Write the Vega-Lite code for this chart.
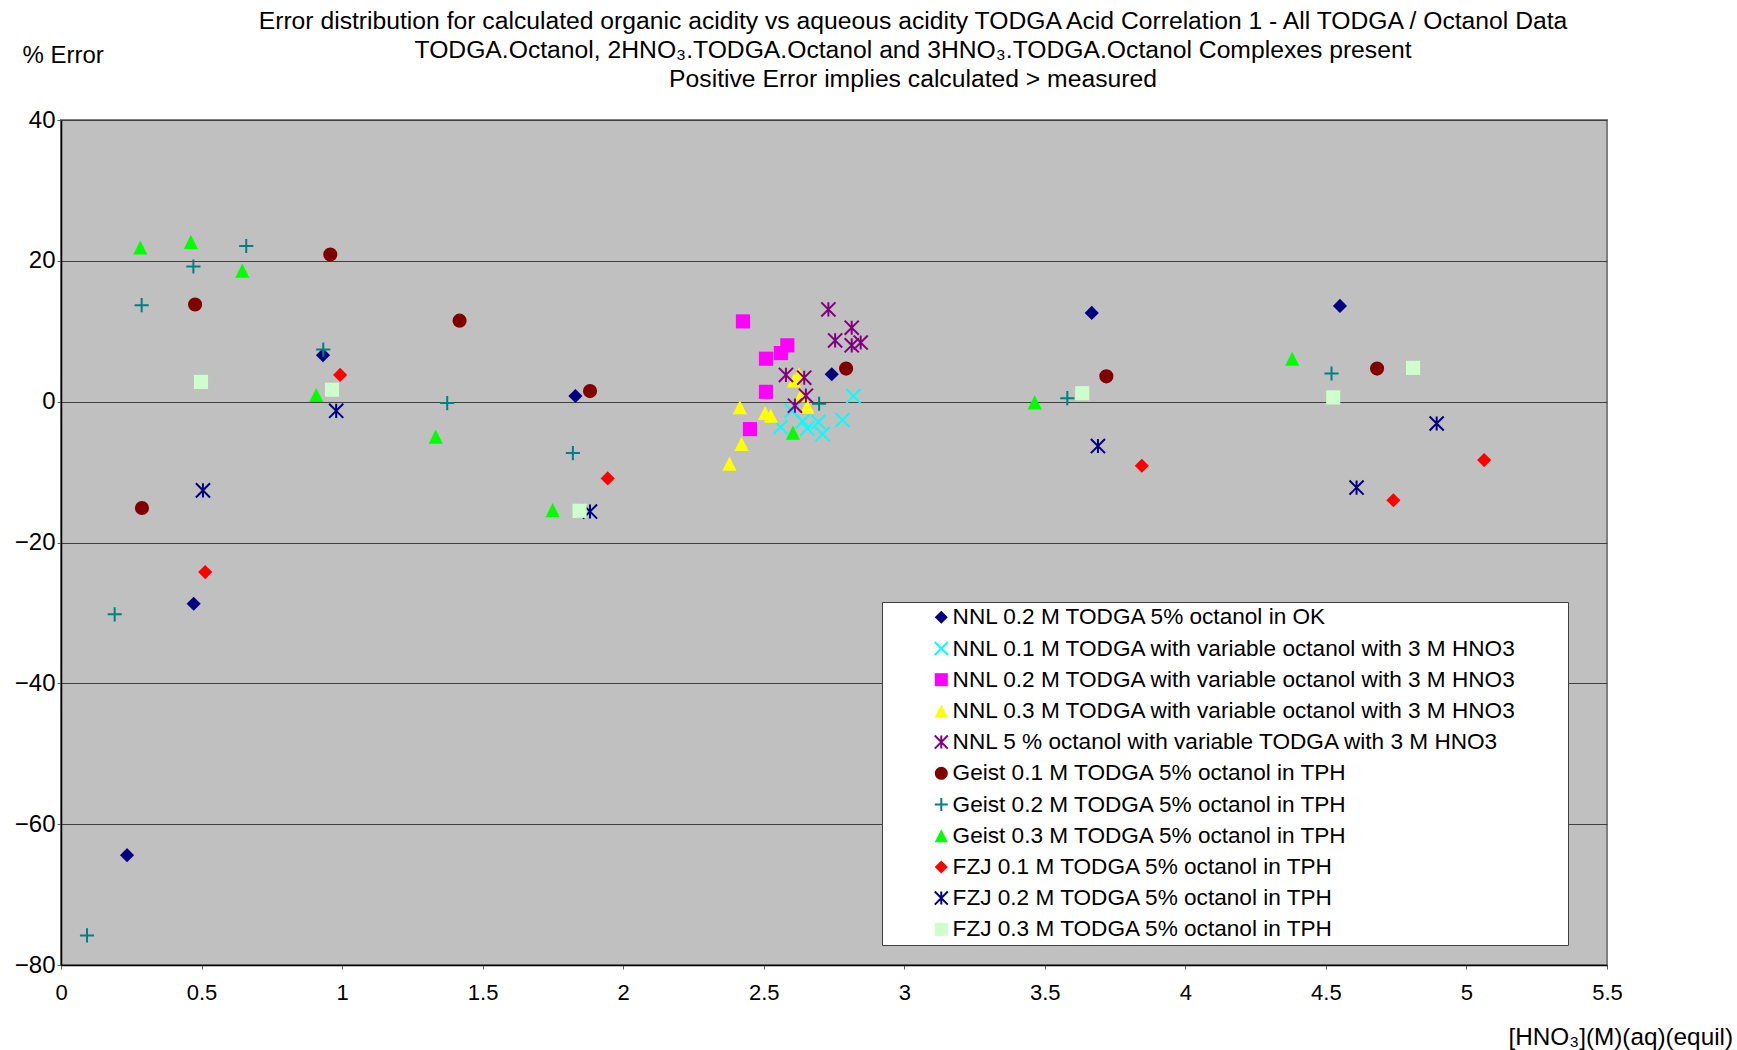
{
  "$schema": "https://vega.github.io/schema/vega-lite/v6.json",
  "autosize": "none",
  "width": 1546,
  "height": 845,
  "padding": {"left": 61, "top": 120, "right": 130, "bottom": 85},
  "background": "white",
  "title": {
    "text": ["Error distribution for calculated organic acidity vs aqueous acidity TODGA Acid Correlation 1 - All TODGA / Octanol Data", "TODGA.Octanol, 2HNO₃.TODGA.Octanol and 3HNO₃.TODGA.Octanol Complexes present", "Positive Error implies calculated > measured"],
    "fontSize": 24.7, "lineHeight": 29, "font": "Liberation Sans", "fontWeight": "normal", "color": "black",
    "anchor": "middle", "frame": "group", "dx": 79, "offset": -49
  },
  "config": {
    "font": "Liberation Sans",
    "view": {"stroke": "#808080", "strokeWidth": 2, "fill": "#C0C0C0"}
  },
  "data": {"values": [
    {"series": "NNL 0.2 M TODGA 5% octanol in OK", "x": 0.932, "y": 6.6},
    {"series": "NNL 0.2 M TODGA 5% octanol in OK", "x": 0.472, "y": -28.7},
    {"series": "NNL 0.2 M TODGA 5% octanol in OK", "x": 0.235, "y": -64.4},
    {"series": "NNL 0.2 M TODGA 5% octanol in OK", "x": 1.830, "y": 0.8},
    {"series": "NNL 0.2 M TODGA 5% octanol in OK", "x": 2.742, "y": 3.9},
    {"series": "NNL 0.2 M TODGA 5% octanol in OK", "x": 3.667, "y": 12.6},
    {"series": "NNL 0.2 M TODGA 5% octanol in OK", "x": 4.550, "y": 13.6},
    {"series": "NNL 0.1 M TODGA with variable octanol with 3 M HNO3", "x": 2.560, "y": -3.6},
    {"series": "NNL 0.1 M TODGA with variable octanol with 3 M HNO3", "x": 2.599, "y": -1.3},
    {"series": "NNL 0.1 M TODGA with variable octanol with 3 M HNO3", "x": 2.639, "y": -2.8},
    {"series": "NNL 0.1 M TODGA with variable octanol with 3 M HNO3", "x": 2.655, "y": -3.8},
    {"series": "NNL 0.1 M TODGA with variable octanol with 3 M HNO3", "x": 2.694, "y": -2.9},
    {"series": "NNL 0.1 M TODGA with variable octanol with 3 M HNO3", "x": 2.709, "y": -4.6},
    {"series": "NNL 0.1 M TODGA with variable octanol with 3 M HNO3", "x": 2.780, "y": -2.6},
    {"series": "NNL 0.1 M TODGA with variable octanol with 3 M HNO3", "x": 2.819, "y": 0.8},
    {"series": "NNL 0.2 M TODGA with variable octanol with 3 M HNO3", "x": 2.426, "y": 11.4},
    {"series": "NNL 0.2 M TODGA with variable octanol with 3 M HNO3", "x": 2.584, "y": 8.0},
    {"series": "NNL 0.2 M TODGA with variable octanol with 3 M HNO3", "x": 2.561, "y": 6.9},
    {"series": "NNL 0.2 M TODGA with variable octanol with 3 M HNO3", "x": 2.508, "y": 6.1},
    {"series": "NNL 0.2 M TODGA with variable octanol with 3 M HNO3", "x": 2.508, "y": 1.4},
    {"series": "NNL 0.2 M TODGA with variable octanol with 3 M HNO3", "x": 2.451, "y": -3.9},
    {"series": "NNL 0.3 M TODGA with variable octanol with 3 M HNO3", "x": 2.625, "y": 3.9},
    {"series": "NNL 0.3 M TODGA with variable octanol with 3 M HNO3", "x": 2.608, "y": 3.0},
    {"series": "NNL 0.3 M TODGA with variable octanol with 3 M HNO3", "x": 2.633, "y": 0.9},
    {"series": "NNL 0.3 M TODGA with variable octanol with 3 M HNO3", "x": 2.655, "y": -0.7},
    {"series": "NNL 0.3 M TODGA with variable octanol with 3 M HNO3", "x": 2.415, "y": -0.8},
    {"series": "NNL 0.3 M TODGA with variable octanol with 3 M HNO3", "x": 2.505, "y": -1.6},
    {"series": "NNL 0.3 M TODGA with variable octanol with 3 M HNO3", "x": 2.525, "y": -2.0},
    {"series": "NNL 0.3 M TODGA with variable octanol with 3 M HNO3", "x": 2.421, "y": -6.0},
    {"series": "NNL 0.3 M TODGA with variable octanol with 3 M HNO3", "x": 2.378, "y": -8.8},
    {"series": "NNL 5 % octanol with variable TODGA with 3 M HNO3", "x": 2.730, "y": 13.1},
    {"series": "NNL 5 % octanol with variable TODGA with 3 M HNO3", "x": 2.813, "y": 10.5},
    {"series": "NNL 5 % octanol with variable TODGA with 3 M HNO3", "x": 2.754, "y": 8.7},
    {"series": "NNL 5 % octanol with variable TODGA with 3 M HNO3", "x": 2.813, "y": 8.0},
    {"series": "NNL 5 % octanol with variable TODGA with 3 M HNO3", "x": 2.845, "y": 8.4},
    {"series": "NNL 5 % octanol with variable TODGA with 3 M HNO3", "x": 2.579, "y": 3.8},
    {"series": "NNL 5 % octanol with variable TODGA with 3 M HNO3", "x": 2.644, "y": 3.4},
    {"series": "NNL 5 % octanol with variable TODGA with 3 M HNO3", "x": 2.650, "y": 0.85},
    {"series": "NNL 5 % octanol with variable TODGA with 3 M HNO3", "x": 2.611, "y": -0.57},
    {"series": "Geist 0.1 M TODGA 5% octanol in TPH", "x": 0.958, "y": 20.9},
    {"series": "Geist 0.1 M TODGA 5% octanol in TPH", "x": 0.477, "y": 13.8},
    {"series": "Geist 0.1 M TODGA 5% octanol in TPH", "x": 1.418, "y": 11.5},
    {"series": "Geist 0.1 M TODGA 5% octanol in TPH", "x": 0.288, "y": -15.1},
    {"series": "Geist 0.1 M TODGA 5% octanol in TPH", "x": 1.882, "y": 1.5},
    {"series": "Geist 0.1 M TODGA 5% octanol in TPH", "x": 2.793, "y": 4.7},
    {"series": "Geist 0.1 M TODGA 5% octanol in TPH", "x": 3.719, "y": 3.6},
    {"series": "Geist 0.1 M TODGA 5% octanol in TPH", "x": 4.682, "y": 4.7},
    {"series": "Geist 0.2 M TODGA 5% octanol in TPH", "x": 0.287, "y": 13.7},
    {"series": "Geist 0.2 M TODGA 5% octanol in TPH", "x": 0.471, "y": 19.2},
    {"series": "Geist 0.2 M TODGA 5% octanol in TPH", "x": 0.659, "y": 22.1},
    {"series": "Geist 0.2 M TODGA 5% octanol in TPH", "x": 0.933, "y": 7.4},
    {"series": "Geist 0.2 M TODGA 5% octanol in TPH", "x": 1.374, "y": -0.2},
    {"series": "Geist 0.2 M TODGA 5% octanol in TPH", "x": 0.191, "y": -30.2},
    {"series": "Geist 0.2 M TODGA 5% octanol in TPH", "x": 0.0925, "y": -75.8},
    {"series": "Geist 0.2 M TODGA 5% octanol in TPH", "x": 1.821, "y": -7.3},
    {"series": "Geist 0.2 M TODGA 5% octanol in TPH", "x": 2.697, "y": -0.3},
    {"series": "Geist 0.2 M TODGA 5% octanol in TPH", "x": 3.580, "y": 0.5},
    {"series": "Geist 0.2 M TODGA 5% octanol in TPH", "x": 4.520, "y": 4.0},
    {"series": "Geist 0.3 M TODGA 5% octanol in TPH", "x": 0.282, "y": 21.9},
    {"series": "Geist 0.3 M TODGA 5% octanol in TPH", "x": 0.462, "y": 22.7},
    {"series": "Geist 0.3 M TODGA 5% octanol in TPH", "x": 0.645, "y": 18.6},
    {"series": "Geist 0.3 M TODGA 5% octanol in TPH", "x": 0.908, "y": 0.95},
    {"series": "Geist 0.3 M TODGA 5% octanol in TPH", "x": 1.333, "y": -4.96},
    {"series": "Geist 0.3 M TODGA 5% octanol in TPH", "x": 1.749, "y": -15.4},
    {"series": "Geist 0.3 M TODGA 5% octanol in TPH", "x": 2.604, "y": -4.4},
    {"series": "Geist 0.3 M TODGA 5% octanol in TPH", "x": 3.464, "y": -0.1},
    {"series": "Geist 0.3 M TODGA 5% octanol in TPH", "x": 4.380, "y": 6.1},
    {"series": "FZJ 0.1 M TODGA 5% octanol in TPH", "x": 0.993, "y": 3.8},
    {"series": "FZJ 0.1 M TODGA 5% octanol in TPH", "x": 0.513, "y": -24.2},
    {"series": "FZJ 0.1 M TODGA 5% octanol in TPH", "x": 1.945, "y": -10.9},
    {"series": "FZJ 0.1 M TODGA 5% octanol in TPH", "x": 3.845, "y": -9.1},
    {"series": "FZJ 0.1 M TODGA 5% octanol in TPH", "x": 4.740, "y": -14.0},
    {"series": "FZJ 0.1 M TODGA 5% octanol in TPH", "x": 5.063, "y": -8.3},
    {"series": "FZJ 0.2 M TODGA 5% octanol in TPH", "x": 0.505, "y": -12.6},
    {"series": "FZJ 0.2 M TODGA 5% octanol in TPH", "x": 0.979, "y": -1.3},
    {"series": "FZJ 0.2 M TODGA 5% octanol in TPH", "x": 1.882, "y": -15.6},
    {"series": "FZJ 0.2 M TODGA 5% octanol in TPH", "x": 3.689, "y": -6.3},
    {"series": "FZJ 0.2 M TODGA 5% octanol in TPH", "x": 4.609, "y": -12.2},
    {"series": "FZJ 0.2 M TODGA 5% octanol in TPH", "x": 4.894, "y": -3.1},
    {"series": "FZJ 0.3 M TODGA 5% octanol in TPH", "x": 0.498, "y": 2.8},
    {"series": "FZJ 0.3 M TODGA 5% octanol in TPH", "x": 0.964, "y": 1.7},
    {"series": "FZJ 0.3 M TODGA 5% octanol in TPH", "x": 1.845, "y": -15.5},
    {"series": "FZJ 0.3 M TODGA 5% octanol in TPH", "x": 3.633, "y": 1.2},
    {"series": "FZJ 0.3 M TODGA 5% octanol in TPH", "x": 4.526, "y": 0.6},
    {"series": "FZJ 0.3 M TODGA 5% octanol in TPH", "x": 4.810, "y": 4.8}
  ]},
  "mark": {"type": "point", "opacity": 1, "size": 200, "strokeWidth": 2},
  "encoding": {
    "x": {
      "field": "x", "type": "quantitative",
      "scale": {"domain": [0, 5.5], "nice": false, "zero": false},
      "axis": {
        "values": [0, 0.5, 1, 1.5, 2, 2.5, 3, 3.5, 4, 4.5, 5, 5.5], "format": "~g", "labelFlush": false, "labelOverlap": false,
        "grid": false, "domainColor": "black", "domainWidth": 1.5,
        "tickColor": "#606060", "tickSize": 4, "labelPadding": 13,
        "labelFontSize": 22, "labelColor": "black", "labelFont": "Liberation Sans",
        "title": "[HNO₃](M)(aq)(equil)", "titleFontSize": 24.3, "titleFontWeight": "normal", "titleColor": "black",
        "titleX": 1447, "titleY": 72, "titleAlign": "left", "titleBaseline": "middle", "titleFont": "Liberation Sans"
      }
    },
    "y": {
      "field": "y", "type": "quantitative",
      "scale": {"domain": [-80, 40], "nice": false, "zero": false},
      "axis": {
        "values": [-80, -60, -40, -20, 0, 20, 40], "format": "d", "labelFlush": false, "labelOverlap": false,
        "grid": true, "gridColor": "#404040", "gridWidth": 1, "gridOpacity": 1,
        "domainColor": "black", "domainWidth": 1.5,
        "tickColor": "#606060", "tickSize": 4, "labelPadding": 2,
        "labelFontSize": 24, "labelColor": "black", "labelFont": "Liberation Sans",
        "title": "% Error", "titleFontSize": 24, "titleFontWeight": "normal", "titleColor": "black",
        "titleAngle": 0, "titleX": -39, "titleY": -65, "titleAlign": "left", "titleBaseline": "middle", "titleFont": "Liberation Sans"
      }
    },
    "fill": {
      "field": "series", "type": "nominal",
      "scale": {
        "domain": ["NNL 0.2 M TODGA 5% octanol in OK", "NNL 0.1 M TODGA with variable octanol with 3 M HNO3", "NNL 0.2 M TODGA with variable octanol with 3 M HNO3", "NNL 0.3 M TODGA with variable octanol with 3 M HNO3", "NNL 5 % octanol with variable TODGA with 3 M HNO3", "Geist 0.1 M TODGA 5% octanol in TPH", "Geist 0.2 M TODGA 5% octanol in TPH", "Geist 0.3 M TODGA 5% octanol in TPH", "FZJ 0.1 M TODGA 5% octanol in TPH", "FZJ 0.2 M TODGA 5% octanol in TPH", "FZJ 0.3 M TODGA 5% octanol in TPH"],
        "range": ["#000080", "transparent", "#FF00FF", "#FFFF00", "transparent", "#800000", "transparent", "#00FF00", "#FF0000", "transparent", "#CCFFCC"]
      },
      "legend": {
        "orient": "none", "legendX": 821, "legendY": 482,
        "title": "\u2800\u2800\u2800", "titleOrient": "right", "titleAngle": 0, "titleFontSize": 20, "titlePadding": 2, "titleLimit": 1000,
        "fillColor": "white", "strokeColor": "#404040",
        "padding": 4, "symbolOffset": 44, "labelOffset": 0,
        "labelFontSize": 22.6, "labelFont": "Liberation Sans", "labelColor": "black", "labelLimit": 1000,
        "rowPadding": 8.2, "symbolSize": 170, "symbolStrokeWidth": 2
      }
    },
    "stroke": {
      "field": "series", "type": "nominal",
      "scale": {
        "domain": ["NNL 0.2 M TODGA 5% octanol in OK", "NNL 0.1 M TODGA with variable octanol with 3 M HNO3", "NNL 0.2 M TODGA with variable octanol with 3 M HNO3", "NNL 0.3 M TODGA with variable octanol with 3 M HNO3", "NNL 5 % octanol with variable TODGA with 3 M HNO3", "Geist 0.1 M TODGA 5% octanol in TPH", "Geist 0.2 M TODGA 5% octanol in TPH", "Geist 0.3 M TODGA 5% octanol in TPH", "FZJ 0.1 M TODGA 5% octanol in TPH", "FZJ 0.2 M TODGA 5% octanol in TPH", "FZJ 0.3 M TODGA 5% octanol in TPH"],
        "range": ["transparent", "#00FFFF", "transparent", "transparent", "#800080", "transparent", "#008080", "transparent", "transparent", "#000080", "transparent"]
      },
      "legend": {
        "orient": "none", "legendX": 821, "legendY": 482,
        "title": "\u2800\u2800\u2800", "titleOrient": "right", "titleAngle": 0, "titleFontSize": 20, "titlePadding": 2, "titleLimit": 1000,
        "fillColor": "white", "strokeColor": "#404040",
        "padding": 4, "symbolOffset": 44, "labelOffset": 0,
        "labelFontSize": 22.6, "labelFont": "Liberation Sans", "labelColor": "black", "labelLimit": 1000,
        "rowPadding": 8.2, "symbolSize": 170, "symbolStrokeWidth": 2
      }
    },
    "shape": {
      "field": "series", "type": "nominal",
      "scale": {
        "domain": ["NNL 0.2 M TODGA 5% octanol in OK", "NNL 0.1 M TODGA with variable octanol with 3 M HNO3", "NNL 0.2 M TODGA with variable octanol with 3 M HNO3", "NNL 0.3 M TODGA with variable octanol with 3 M HNO3", "NNL 5 % octanol with variable TODGA with 3 M HNO3", "Geist 0.1 M TODGA 5% octanol in TPH", "Geist 0.2 M TODGA 5% octanol in TPH", "Geist 0.3 M TODGA 5% octanol in TPH", "FZJ 0.1 M TODGA 5% octanol in TPH", "FZJ 0.2 M TODGA 5% octanol in TPH", "FZJ 0.3 M TODGA 5% octanol in TPH"],
        "range": ["diamond", "M-1,-1L1,1M-1,1L1,-1", "square", "M0,-1L1,1L-1,1Z", "M-1,-1L1,1M-1,1L1,-1M0,-1L0,1", "circle", "M-1,0L1,0M0,-1L0,1", "M0,-1L1,1L-1,1Z", "diamond", "M-1,-1L1,1M-1,1L1,-1M0,-1L0,1", "square"]
      },
      "legend": {
        "orient": "none", "legendX": 821, "legendY": 482,
        "title": "\u2800\u2800\u2800", "titleOrient": "right", "titleAngle": 0, "titleFontSize": 20, "titlePadding": 2, "titleLimit": 1000,
        "fillColor": "white", "strokeColor": "#404040",
        "padding": 4, "symbolOffset": 44, "labelOffset": 0,
        "labelFontSize": 22.6, "labelFont": "Liberation Sans", "labelColor": "black", "labelLimit": 1000,
        "rowPadding": 8.2, "symbolSize": 170, "symbolStrokeWidth": 2
      }
    }
  }
}
